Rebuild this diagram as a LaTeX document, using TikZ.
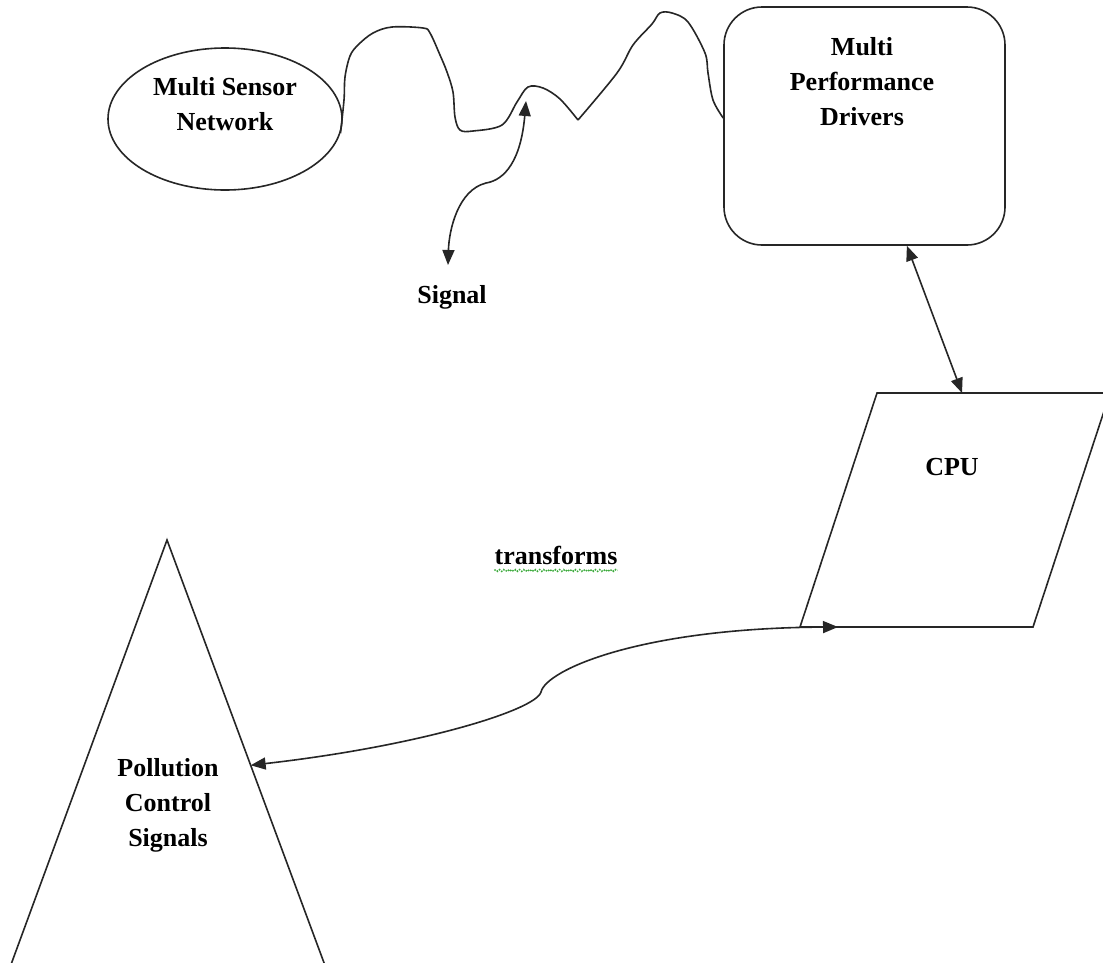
\documentclass[tikz,border=0pt]{standalone}
\usepackage{fontspec}
\setmainfont{Liberation Serif}
\usetikzlibrary{shapes.geometric,arrows.meta,calc,decorations.pathmorphing}
\definecolor{spellgreen}{RGB}{60,170,60}
\begin{document}
\begin{tikzpicture}[x=1pt,y=-1pt,
  line/.style={line width=1.6pt, black!85},
  lbl/.style={font=\fontsize{26}{35}\selectfont\bfseries, align=center, inner sep=0pt},
  tips/.style={{Triangle[length=15pt,width=12pt]}-{Triangle[length=15pt,width=12pt]}},
]
\useasboundingbox (0,0) rectangle (1103,962);
\fill[white] (0,0) rectangle (1103,962);

% Multi Sensor Network
\node[draw, line, ellipse, minimum width=234pt, minimum height=142pt, inner sep=0pt] (msn) at (225,119) {};
\node[lbl] (msntext) at (225,104) {Multi Sensor\\Network};

% Multi Performance Drivers
\node[draw, line, rounded corners=38pt, minimum width=281pt, minimum height=238pt, inner sep=0pt] (mpd) at (864.5,126) {};
\node[lbl] (mpdtext) at (862,82) {Multi\\Performance\\Drivers};

% wavy signal path
\coordinate (wavestart) at (msn.-7);
\coordinate (waveend) at ($(mpd.west)+(0,-8)$);
\coordinate (sigtop) at (526,101);
\draw[line] plot[smooth, tension=0.55] coordinates {(wavestart) (344,100) (345,77) (350,56) (358,45) (373,33) (392,27) (423,28) (430,33) (440,55) (447,72) (453,92) (455,117) (460,130) (473,131) (502,125) (517,102) (528,87) (543,88) (560,99) (578,120)};
\draw[line] plot[smooth, tension=0.55] coordinates {(578,120) (617,73) (633,45) (652,24) (660,13) (672,13) (688,22) (705,53) (708,73) (713,100) (waveend)};

% Signal
\node[lbl] (signal) at (452,297) {Signal};
\coordinate (sigend) at (448,265);
\draw[line, tips] (sigtop) .. controls (521,160) and (505,180) .. (486,183) .. controls (458,190) and (449,230) .. (sigend);

% CPU
\coordinate (cpuA) at (877,393);
\coordinate (cpuB) at (1110,393);
\coordinate (cpuC) at (1033,627);
\coordinate (cpuD) at (800,627);
\begin{scope}
\clip (0,0) rectangle (1103,962);
\draw[line] (cpuA) -- (cpuB) -- (cpuC) -- (cpuD) -- cycle;
\end{scope}
\node[lbl] (cpu) at (952,467) {CPU};

% MPD <-> CPU
\coordinate (mpdbot) at ($(mpd.south west)!0.65!(mpd.south east)$);
\coordinate (cputop) at ($(cpuA)!0.365!(cpuB)$);
\draw[line, tips] (mpdbot) -- (cputop);

% transforms
\node[lbl] (transforms) at (556,555) {transforms};
\draw[spellgreen, line width=1.5pt, dash pattern=on 1.5pt off 1.5pt, decorate, decoration={snake, amplitude=0.9pt, segment length=4pt}] ($(transforms.south west)+(0,6)$) -- ($(transforms.south east)+(0,6)$);

% Pollution Control Signals
\coordinate (triapex) at (167,540);
\coordinate (trileft) at (9,970);
\coordinate (triright) at (326.7,970);
\begin{scope}
\clip (0,0) rectangle (1103,962);
\draw[line] (trileft) -- (triapex) -- (triright);
\end{scope}
\node[lbl] (pcs) at (168,805) {Pollution\\Control\\Signals};

% CPU <-> Pollution
\coordinate (cpuin) at (838,627);
\coordinate (pcsin) at ($(triapex)!0.5238!(triright)$);
\draw[line, tips] (pcsin) .. controls (420,746) and (536,710) .. (541,692) .. controls (546,670) and (640,628) .. (cpuin);
\end{tikzpicture}
\end{document}
